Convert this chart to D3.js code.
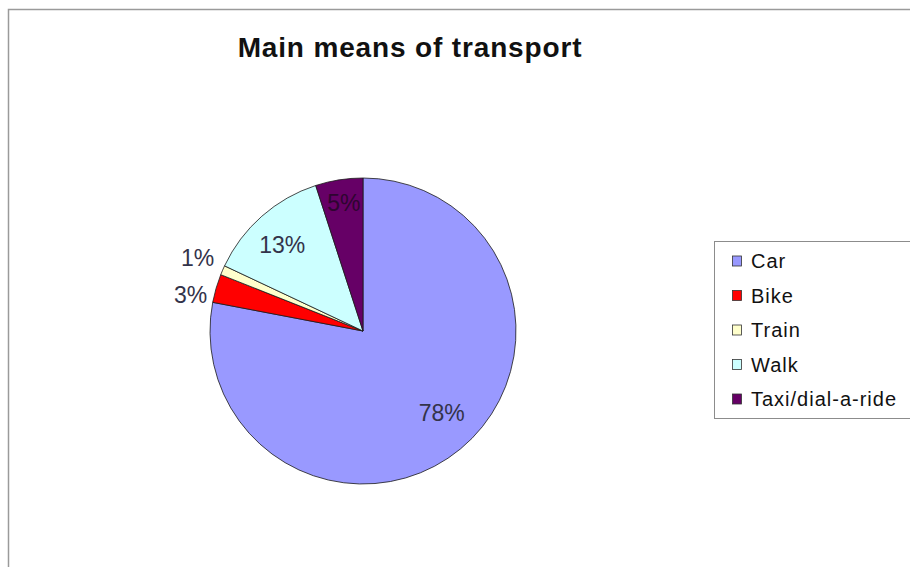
<!DOCTYPE html>
<html>
<head>
<meta charset="utf-8">
<script src="https://cdn.jsdelivr.net/npm/d3@7"></script>
<style>
  html, body { margin: 0; padding: 0; background: #fff; }
  svg { display: block; font-family: Arial, "Liberation Sans", sans-serif; }
</style>
</head>
<body>
<svg id="chart" width="910" height="567"></svg>
<script>
// Transport modes and their share of trips (percent)
const categories = ["Car", "Bike", "Train", "Walk", "Taxi/dial-a-ride"];
const shares = [78, 3, 1, 13, 5];
const colors = ["#9999FF", "#FF0000", "#FFFFCC", "#CCFFFF", "#660066"];
const chartTitle = "Main means of transport";

const svg = d3.select("#chart");

// Chart area frame (top and left edges visible)
svg.append("path")
  .attr("d", "M8.5,567 L8.5,9.5 L910,9.5")
  .attr("fill", "none")
  .attr("stroke", "#9a9a9a")
  .attr("stroke-width", 1.5);

svg.append("text")
  .attr("x", 410)
  .attr("y", 57)
  .attr("text-anchor", "middle")
  .attr("font-size", 28)
  .attr("font-weight", "bold")
  .attr("letter-spacing", 0.85)
  .attr("fill", "#111")
  .text(chartTitle);

const cx = 363, cy = 331, r = 153;
const data = categories.map((c, i) => ({ name: c, value: shares[i], color: colors[i] }));

const pie = d3.pie().value(d => d.value).sort(null);
const arcs = pie(data);
const arc = d3.arc().innerRadius(0).outerRadius(r);

const g = svg.append("g").attr("transform", `translate(${cx},${cy})`);

g.selectAll("path.slice")
  .data(arcs)
  .join("path")
  .attr("class", "slice")
  .attr("d", arc)
  .attr("fill", d => d.data.color)
  .attr("stroke", "#1a1a1a")
  .attr("stroke-width", 0.8);

// Percentage labels: inside for large slices, outside for narrow ones
const isOutside = d => d.data.value <= 3;
const insideRadius = { "Car": 0.745, "Walk": 0.72, "Taxi/dial-a-ride": 0.88 };
const insideNudge = { "Car": [6, -6], "Walk": [-8, -3], "Taxi/dial-a-ride": [2, 5] };
const outerArc = d3.arc().innerRadius(r * 1.06).outerRadius(r * 1.06);

const labels = arcs.map(d => {
  let x, y;
  if (isOutside(d)) {
    [x, y] = outerArc.centroid(d);
  } else {
    const k = insideRadius[d.data.name] * r;
    const a = d3.arc().innerRadius(k).outerRadius(k);
    [x, y] = a.centroid(d);
    const n = insideNudge[d.data.name];
    x += n[0]; y += n[1];
  }
  return { d, x, y };
});

// Spread the outside labels vertically so they do not collide
const outs = labels.filter(l => isOutside(l.d)).sort((a, b) => a.y - b.y);
if (outs.length === 2) {
  const mid = (outs[0].y + outs[1].y) / 2, gap = 37;
  outs[0].y = mid - gap / 2;
  outs[1].y = mid + gap / 2;
}

g.selectAll("text.pct")
  .data(labels)
  .join("text")
  .attr("class", "pct")
  .attr("x", l => l.x)
  .attr("y", l => l.y)
  .attr("text-anchor", l => isOutside(l.d) ? "end" : "middle")
  .attr("dy", "0.35em")
  .attr("font-size", 23)
  .attr("fill", l => l.d.data.name === "Taxi/dial-a-ride" ? "#2e0530" : "#33334a")
  .text(l => l.d.data.value + "%");

// Legend
const legend = svg.append("g").attr("transform", "translate(714,241)");
legend.append("rect")
  .attr("x", 0.5).attr("y", 0.5)
  .attr("width", 210).attr("height", 177)
  .attr("fill", "#fff")
  .attr("stroke", "#8c8c8c")
  .attr("stroke-width", 1);

const ly = d3.scalePoint().domain(categories).range([20, 158]);

const items = legend.selectAll("g.item")
  .data(data)
  .join("g")
  .attr("class", "item")
  .attr("transform", d => `translate(0,${ly(d.name)})`);

items.append("rect")
  .attr("x", 18.5).attr("y", -5)
  .attr("width", 9).attr("height", 10)
  .attr("fill", d => d.color)
  .attr("stroke", "#333")
  .attr("stroke-width", 0.8);

items.append("text")
  .attr("x", 37)
  .attr("y", 0)
  .attr("dy", "0.35em")
  .attr("font-size", 20)
  .attr("letter-spacing", 1.0)
  .attr("fill", "#111")
  .text(d => d.name);
</script>
</body>
</html>
